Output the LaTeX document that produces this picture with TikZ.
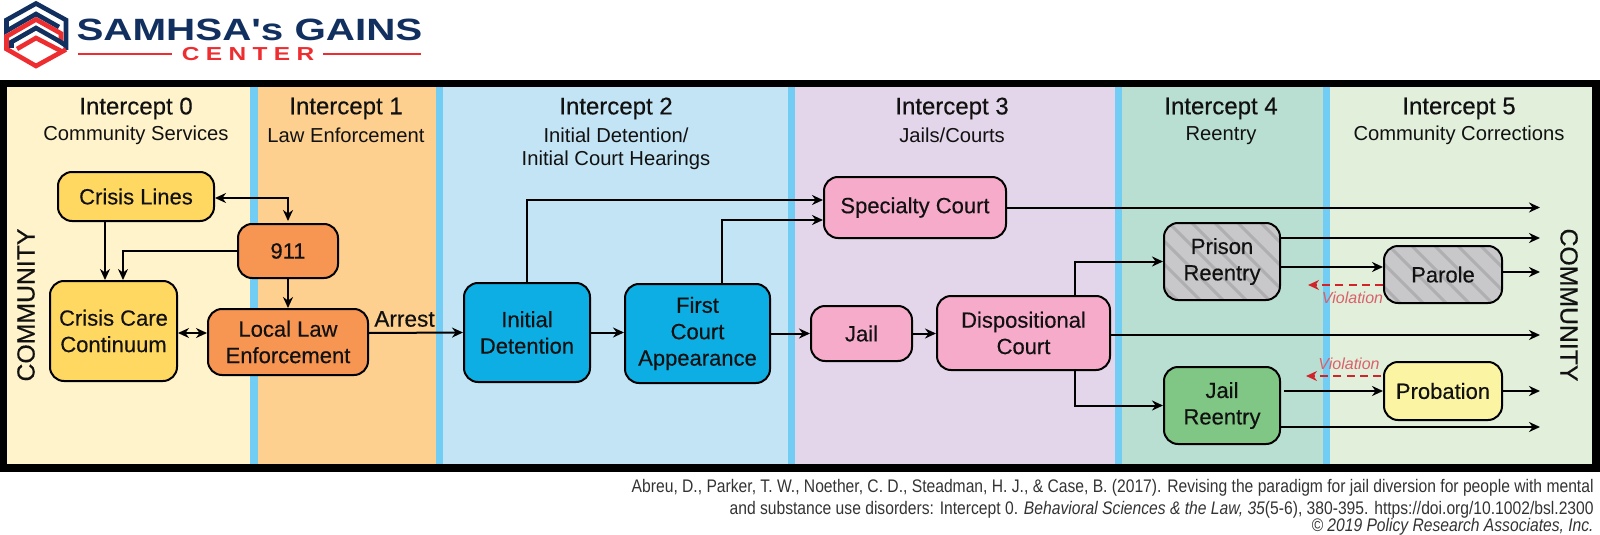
\documentclass[tikz,border=0pt]{standalone}
\usepackage{fontspec}
\usetikzlibrary{arrows.meta,calc}
\setmainfont{Liberation Sans}
\newfontfamily\medfont[FakeBold=0.35]{Liberation Sans}
\newfontfamily\footfont[FakeStretch=0.86]{Liberation Sans}
\newfontfamily\logofont[FakeStretch=1.31]{Liberation Sans}
\newfontfamily\centerfont[FakeStretch=1.3,LetterSpace=34]{Liberation Sans}
\definecolor{bandA}{HTML}{FFF3CC}
\definecolor{bandB}{HTML}{FDD08F}
\definecolor{bandC}{HTML}{C2E4F5}
\definecolor{bandD}{HTML}{E3D6EA}
\definecolor{bandE}{HTML}{B9DFD3}
\definecolor{bandF}{HTML}{E1EFDB}
\definecolor{stripe}{HTML}{72CDF4}
\definecolor{boxyellow}{HTML}{FFD862}
\definecolor{boxorange}{HTML}{F79552}
\definecolor{boxblue}{HTML}{0DAEE3}
\definecolor{boxpink}{HTML}{F7ABCA}
\definecolor{boxgray}{HTML}{C8C8CA}
\definecolor{hatchgray}{HTML}{AFAFB1}
\definecolor{boxgreen}{HTML}{80C684}
\definecolor{boxlemon}{HTML}{FBF4A3}
\definecolor{viol}{HTML}{D2232A}
\definecolor{violtext}{HTML}{D9616A}
\definecolor{navy}{HTML}{12305F}
\definecolor{logored}{HTML}{EE2D30}
\definecolor{inktext}{HTML}{111111}
\definecolor{foottext}{HTML}{333333}
\tikzset{
  box/.style={draw=black,line width=1pt,rounded corners=7pt,align=center,inner sep=0pt,
    text=inktext,font=\medfont\fontsize{11}{13.2}\selectfont},
  hatched/.style={path picture={
    \foreach \i in {-110,-87,...,130}{
      \draw[hatchgray,line width=1.5pt]
        ([xshift=\i*0.5pt]path picture bounding box.north west) -- ++(90,90);}}},
  arr/.style={draw=black,line width=1pt,-{Stealth[length=5.5pt,width=5pt]}},
  arrboth/.style={draw=black,line width=1pt,{Stealth[length=5.5pt,width=5pt]}-{Stealth[length=5.5pt,width=5pt]}},
  dasharr/.style={draw=viol,line width=0.8pt,dash pattern=on 4pt off 2.6pt,-{Stealth[length=5.5pt,width=5pt]}},
  head/.style={inner sep=0pt,text=inktext,font=\medfont\fontsize{12}{14}\selectfont},
  sub/.style={inner sep=0pt,text=inktext,font=\fontsize{10.1}{13}\selectfont},
  side/.style={inner sep=0pt,text=inktext,font=\medfont\fontsize{12.4}{14}\selectfont},
  violabel/.style={inner sep=0pt,text=violtext,font=\fontsize{8}{10}\selectfont\itshape},
  foot/.style={inner sep=0pt,anchor=east,text=foottext,font=\footfont\fontsize{9.1}{11}\selectfont},
  logoN/.style={draw=navy,line width=2.3pt,miter limit=8},
  logoR/.style={draw=logored,line width=2.3pt,miter limit=8},
}
\begin{document}
\begin{tikzpicture}[x=0.5pt,y=-0.5pt]
\useasboundingbox (0,0) rectangle (1600,535);
% frame and bands
\fill[black] (0,80) rectangle (1600,472);
\fill[bandA] (7,87) rectangle (250,464);
\fill[stripe] (250,87) rectangle (258,464);
\fill[bandB] (258,87) rectangle (436,464);
\fill[stripe] (436,87) rectangle (443,464);
\fill[bandC] (443,87) rectangle (788,464);
\fill[stripe] (788,87) rectangle (795,464);
\fill[bandD] (795,87) rectangle (1115,464);
\fill[stripe] (1115,87) rectangle (1122,464);
\fill[bandE] (1122,87) rectangle (1323,464);
\fill[stripe] (1323,87) rectangle (1330,464);
\fill[bandF] (1330,87) rectangle (1592,464);
% logo
\draw[logoN] (66,50) -- (66,20) -- (36,3.5) -- (6.5,20) -- (6.5,31) -- (36,14) -- (59,27);
\draw[logoR] (61,41) -- (61,33.5) -- (36,19.5) -- (6.5,36.5) -- (6.5,49) -- (36,66) -- (66,49.5);
\draw[logoN] (11.5,48) -- (11.5,42) -- (36,28) -- (59,41) -- (65,45);
\draw[logoR] (17,49) -- (36,38) -- (63,52);
\node[inner sep=0pt,text=navy,font=\logofont\bfseries\fontsize{15.4}{18}\selectfont] (logotitle) at (249.5,29.5) {SAMHSA's GAINS};
\node[inner sep=0pt,text=logored,font=\centerfont\bfseries\fontsize{9.4}{11}\selectfont] (logosub) at (248,54) {CENTER};
\coordinate (ruleAl) at (78,54);
\coordinate (ruleAr) at (172,54);
\coordinate (ruleBl) at (323,54);
\coordinate (ruleBr) at (421,54);
\draw[logored,line width=0.6pt] (ruleAl) -- (ruleAr);
\draw[logored,line width=0.6pt] (ruleBl) -- (ruleBr);
% headers
\node[head] (h0) at (136,108.5) {Intercept 0};
\node[sub] (s0) at (136,135.5) {Community Services};
\node[head] (h1) at (346,108.5) {Intercept 1};
\node[sub] (s1) at (346,135.5) {Law Enforcement};
\node[head] (h2) at (616,108.5) {Intercept 2};
\node[sub] (s2a) at (616,135.5) {Initial Detention/};
\node[sub] (s2b) at (616,160.5) {Initial Court Hearings};
\node[head] (h3) at (952,108.5) {Intercept 3};
\node[sub] (s3) at (952,135.5) {Jails/Courts};
\node[head] (h4) at (1221,108.5) {Intercept 4};
\node[sub] (s4) at (1221,135.5) {Reentry};
\node[head] (h5) at (1459,108.5) {Intercept 5};
\node[sub] (s5) at (1459,135.5) {Community Corrections};
\node[side,rotate=90] (commL) at (26,305) {COMMUNITY};
\node[side,rotate=-90] (commR) at (1569,305) {COMMUNITY};
% boxes
\node[box,fill=boxyellow,minimum width=78pt,minimum height=24.5pt] (cl) at (136,196.5) {Crisis Lines};
\node[box,fill=boxorange,minimum width=50pt,minimum height=27pt] (n911) at (288,251) {911};
\node[box,fill=boxyellow,minimum width=63.5pt,minimum height=50pt] (cc) at (113.5,331) {Crisis Care\\Continuum};
\node[box,fill=boxorange,minimum width=80pt,minimum height=33pt] (lle) at (288,342) {Local Law\\Enforcement};
\node[box,fill=boxblue,minimum width=63pt,minimum height=49.5pt] (id) at (527,332.5) {Initial\\Detention};
\node[box,fill=boxblue,minimum width=72.5pt,minimum height=49.5pt] (fc) at (697.5,333.5) {First\\Court\\Appearance};
\node[box,fill=boxpink,minimum width=91pt,minimum height=30.5pt] (sc) at (915,207.5) {Specialty Court};
\node[box,fill=boxpink,minimum width=50.5pt,minimum height=27.5pt] (jl) at (861.5,333.5) {Jail};
\node[box,fill=boxpink,minimum width=86.5pt,minimum height=37pt] (dc) at (1023.5,333) {Dispositional\\Court};
\node[box,fill=boxgray,hatched,minimum width=58pt,minimum height=38.5pt] (pr) at (1222,261.5) {Prison\\Reentry};
\node[box,fill=boxgray,hatched,minimum width=59pt,minimum height=28.5pt] (pa) at (1443,274.5) {Parole};
\node[box,fill=boxgreen,minimum width=58pt,minimum height=38.5pt] (jr) at (1222,405.5) {Jail\\Reentry};
\node[box,fill=boxlemon,minimum width=59pt,minimum height=29pt] (pb) at (1443,391) {Probation};
% free ends
\coordinate (outA) at (1540,207.5);
\coordinate (outB) at (1540,238);
\coordinate (outC) at (1540,272);
\coordinate (outD) at (1540,335);
\coordinate (outE) at (1540,391);
\coordinate (outF) at (1540,427);
\coordinate (violA) at (1308,285);
\coordinate (violB) at (1306,376);
% connectors
\draw[arrboth,shorten >=1pt,shorten <=0pt] ([yshift=-0.75pt]cl.east) -| (n911.north);
\draw[arr] ([xshift=-15.5pt]cl.south) -- ([xshift=-4.25pt]cc.north);
\draw[arr] (n911.west) -| ([xshift=4.75pt]cc.north);
\draw[arr] (n911.south) -- (lle.north);
\draw[arrboth] ([yshift=-1pt]cc.east) -- ([yshift=4.5pt]lle.west);
\draw[arr] ([yshift=4.5pt]lle.east) -- (id.west);
\node[inner sep=0pt,text=inktext,font=\medfont\fontsize{11.3}{13}\selectfont] (arrestlabel) at (404.5,319) {Arrest};
\draw[arr] (id.east) -- (id.east -| fc.west);
\draw[arr] (fc.east) -- (jl.west);
\draw[arr] (jl.east) -- (jl.east -| dc.west);
\draw[arr] (id.north) |- ([yshift=3.75pt]sc.west);
\draw[arr] ([xshift=12.25pt]fc.north) |- ([yshift=-6.25pt]sc.west);
\draw[arr] (sc.east) -- (outA);
\draw[arr] ([xshift=25.75pt]dc.north) |- (pr.west);
\draw[arr] ([xshift=25.75pt]dc.south) |- (jr.west);
\draw[arr] ([yshift=-1pt]dc.east) -- (outD);
\draw[arr] ([yshift=11.75pt]pr.east) -- (outB);
\draw[arr] ([yshift=-2.75pt]pr.east) -- ([yshift=3.75pt]pa.west);
\draw[arr] ([yshift=1.25pt]pa.east) -- (outC);
\draw[dasharr] ([yshift=-5.25pt]pa.west) -- (violA);
\node[violabel] (violtA) at (1352.5,298) {Violation};
\draw[arr] ([xshift=1.5pt,yshift=7.25pt]jr.east) -- (pb.west);
\draw[arr] (pb.east) -- (outE);
\draw[arr] ([yshift=-10.75pt]jr.east) -- (outF);
\draw[dasharr] ([xshift=-1pt,yshift=7.5pt]pb.west) -- (violB);
\node[violabel] (violtB) at (1349,364) {Violation};
% citation
\node[foot] (f1) at (1594,488) {Abreu, D., Parker, T. W., Noether, C. D., Steadman, H. J., \& Case, B. (2017). Revising the paradigm for jail diversion for people with mental};
\node[foot] (f2) at (1594,510) {and substance use disorders: Intercept 0. {\itshape Behavioral Sciences \& the Law, 35}(5-6), 380-395. https://doi.org/10.1002/bsl.2300};
\node[foot] (f3) at (1594,527) {\itshape © 2019 Policy Research Associates, Inc.};
\end{tikzpicture}
\end{document}
